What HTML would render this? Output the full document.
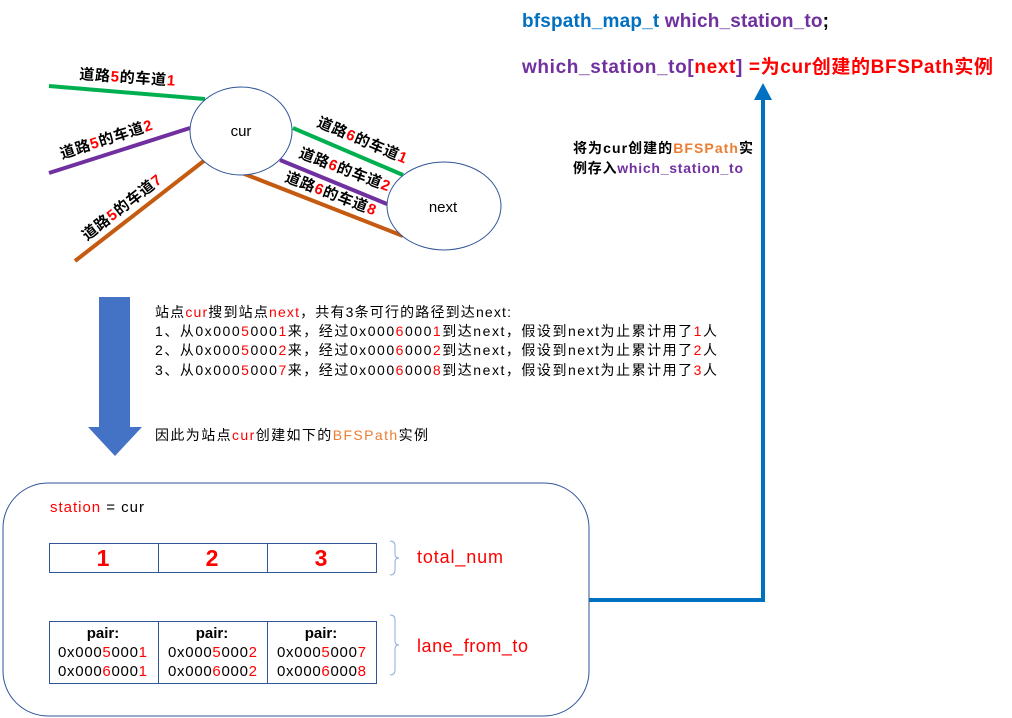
<!DOCTYPE html>
<html><head><meta charset="utf-8"><style>
html,body{margin:0;padding:0;background:#fff;}
svg{display:block;font-family:"Liberation Sans","Noto Sans CJK SC",sans-serif;}
.r{fill:#ff0000}.o{fill:#ed7d31}.p{fill:#7030a0}.b{fill:#0070c0}
</style></head><body>
<svg width="1012" height="718" viewBox="0 0 1012 718" xmlns="http://www.w3.org/2000/svg">
<g stroke-width="4" fill="none">
<line x1="49" y1="86" x2="205" y2="99" stroke="#00b050"/>
<line x1="49" y1="173" x2="190" y2="128" stroke="#7030a0"/>
<line x1="75" y1="261" x2="205" y2="160" stroke="#c55a11"/>
<line x1="293" y1="128" x2="403" y2="175" stroke="#00b050"/>
<line x1="280" y1="160" x2="387" y2="204" stroke="#7030a0"/>
<line x1="242" y1="173" x2="403" y2="236" stroke="#c55a11"/>
</g>
<ellipse cx="241" cy="131" rx="51" ry="44" fill="#fff" stroke="#2f5597" stroke-width="1"/>
<ellipse cx="444" cy="206" rx="57" ry="44" fill="#fff" stroke="#2f5597" stroke-width="1"/>
<text x="241" y="136" font-size="15" text-anchor="middle">cur</text>
<text x="443" y="212" font-size="15" text-anchor="middle">next</text>
<g font-size="15" font-weight="bold">
<text x="79" y="79" transform="rotate(4 79 79)" textLength="96">道路<tspan class="r">5</tspan>的车道<tspan class="r">1</tspan></text>
<text x="62" y="159" transform="rotate(-18 62 159)" textLength="96">道路<tspan class="r">5</tspan>的车道<tspan class="r">2</tspan></text>
<text x="87" y="241" transform="rotate(-38 87 241)" textLength="96">道路<tspan class="r">5</tspan>的车道<tspan class="r">7</tspan></text>
<text x="316" y="126" transform="rotate(23 316 126)" textLength="96">道路<tspan class="r">6</tspan>的车道<tspan class="r">1</tspan></text>
<text x="298" y="157" transform="rotate(21 298 157)" textLength="96">道路<tspan class="r">6</tspan>的车道<tspan class="r">2</tspan></text>
<text x="284" y="181" transform="rotate(21 284 181)" textLength="96">道路<tspan class="r">6</tspan>的车道<tspan class="r">8</tspan></text>
</g>
<polygon points="99,297 130,297 130,427 142,427 115,456 88,427 99,427" fill="#4472c4"/>
<g font-size="14">
<text x="155" y="317" textLength="356">站点<tspan class="r">cur</tspan>搜到站点<tspan class="r">next</tspan>，共有3条可行的路径到达next:</text>
<text x="155" y="336" textLength="562">1、从0x000<tspan class="r">5</tspan>000<tspan class="r">1</tspan>来，经过0x000<tspan class="r">6</tspan>000<tspan class="r">1</tspan>到达next，假设到next为止累计用了<tspan class="r">1</tspan>人</text>
<text x="155" y="355" textLength="562">2、从0x000<tspan class="r">5</tspan>000<tspan class="r">2</tspan>来，经过0x000<tspan class="r">6</tspan>000<tspan class="r">2</tspan>到达next，假设到next为止累计用了<tspan class="r">2</tspan>人</text>
<text x="155" y="375" textLength="562">3、从0x000<tspan class="r">5</tspan>000<tspan class="r">7</tspan>来，经过0x000<tspan class="r">6</tspan>000<tspan class="r">8</tspan>到达next，假设到next为止累计用了<tspan class="r">3</tspan>人</text>
<text x="155" y="440" textLength="273">因此为站点<tspan class="r">cur</tspan>创建如下的<tspan class="o">BFSPath</tspan>实例</text>
</g>
<polyline points="589,600 763,600 763,98" fill="none" stroke="#0070c0" stroke-width="4"/>
<polygon points="754,100 772,100 763,83" fill="#0070c0"/>
<rect x="3" y="483" width="586" height="233" rx="45" ry="45" fill="#fff" stroke="#2f5597" stroke-width="1"/>
<text x="50" y="512" font-size="15" textLength="94"><tspan class="r">station</tspan> = cur</text>
<g fill="none" stroke="#2f5597" stroke-width="1">
<rect x="49.5" y="543.5" width="327" height="29"/>
<line x1="158.5" y1="543" x2="158.5" y2="573"/><line x1="267.5" y1="543" x2="267.5" y2="573"/>
<rect x="49.5" y="621.5" width="327" height="62"/>
<line x1="158.5" y1="621" x2="158.5" y2="684"/><line x1="267.5" y1="621" x2="267.5" y2="684"/>
<path d="M390,541 q5,0 5,5 v8 q0,4 4,4 q-4,0 -4,4 v8 q0,5 -5,5" stroke="#8faadc"/>
<path d="M390,615 q5,0 5,5 v21 q0,4 4,4 q-4,0 -4,4 v21 q0,5 -5,5" stroke="#8faadc"/>
</g>
<g font-size="23" font-weight="bold" class="r" text-anchor="middle">
<text x="103" y="566">1</text><text x="212" y="566">2</text><text x="321" y="566">3</text>
</g>
<text x="417" y="563" font-size="18" class="r" textLength="86">total_num</text>
<text x="417" y="652" font-size="18" class="r" textLength="111">lane_from_to</text>
<g font-size="15" text-anchor="middle">
<text x="103" y="638" font-weight="bold">pair:</text>
<text x="212" y="638" font-weight="bold">pair:</text>
<text x="321" y="638" font-weight="bold">pair:</text>
<text x="58" y="657" text-anchor="start" textLength="89">0x000<tspan class="r">5</tspan>000<tspan class="r">1</tspan></text>
<text x="58" y="676" text-anchor="start" textLength="89">0x000<tspan class="r">6</tspan>000<tspan class="r">1</tspan></text>
<text x="168" y="657" text-anchor="start" textLength="89">0x000<tspan class="r">5</tspan>000<tspan class="r">2</tspan></text>
<text x="168" y="676" text-anchor="start" textLength="89">0x000<tspan class="r">6</tspan>000<tspan class="r">2</tspan></text>
<text x="277" y="657" text-anchor="start" textLength="89">0x000<tspan class="r">5</tspan>000<tspan class="r">7</tspan></text>
<text x="277" y="676" text-anchor="start" textLength="89">0x000<tspan class="r">6</tspan>000<tspan class="r">8</tspan></text>
</g>
<g font-size="19" font-weight="bold">
<text x="522" y="27" textLength="307"><tspan class="b">bfspath_map_t</tspan> <tspan class="p">which_station_to</tspan>;</text>
<text x="522" y="73" textLength="471"><tspan class="p">which_station_to[</tspan><tspan class="r">next</tspan><tspan class="p">]</tspan> <tspan class="r">=为cur创建的BFSPath实例</tspan></text>
</g>
<g font-size="14" font-weight="bold">
<text x="573" y="153" textLength="180">将为cur创建的<tspan class="o">BFSPath</tspan>实</text>
<text x="573" y="173" textLength="170">例存入<tspan class="p">which_station_to</tspan></text>
</g>
</svg>
</body></html>
